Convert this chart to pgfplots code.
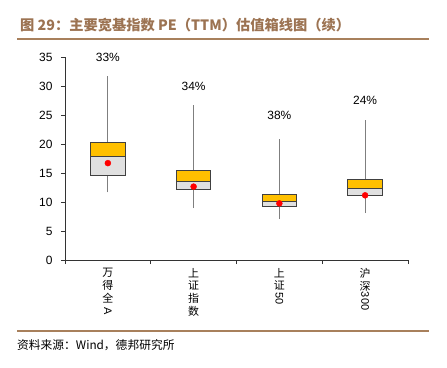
\documentclass[border=0pt]{standalone}
\usepackage{fontspec}
\setmainfont{Liberation Sans}
\newfontfamily\cjk{Noto Sans CJK SC}
\usepackage{graphicx}
\usepackage{pgfplots}
\pgfplotsset{compat=1.18}
\definecolor{brownline}{HTML}{A8805C}
\definecolor{browntext}{HTML}{9C7352}
\definecolor{boxorange}{HTML}{FFC000}
\definecolor{boxgray}{HTML}{E0E0E0}
\definecolor{whisk}{HTML}{7F7F7F}
\definecolor{boxedge}{HTML}{404040}
\newcommand{\rl}[1]{\rotatebox[origin=c]{-90}{#1}}
\begin{document}
\begin{tikzpicture}
\useasboundingbox (0bp,0bp) rectangle (447bp,368bp);
\draw[brownline, line width=1.5bp] (17bp,329bp) -- (429bp,329bp);
\draw[brownline, line width=1.5bp] (17bp,37bp) -- (429bp,37bp);
\node[anchor=west, text=browntext, font=\cjk\bfseries\fontsize{14.3}{15.5}\selectfont, inner sep=0pt] at (20bp,343bp) {图 29：主要宽基指数 PE（TTM）估值箱线图（续）};
\node[anchor=west, font=\cjk\fontsize{11.8}{13}\selectfont, inner sep=0pt] at (17bp,23bp) {资料来源：Wind，德邦研究所};
\begin{axis}[
  at={(65bp,108bp)}, anchor=south west, scale only axis,
  width=343bp, height=203bp,
  xmin=0, xmax=4, ymin=0, ymax=35,
  axis x line=bottom, axis y line=left,
  axis line style={-, black!80, line width=0.8bp},
  xtick={0,1,2,3,4}, xticklabels={},
  ytick={0,5,...,35},
  tick align=outside, major tick length=4bp,
  tick style={black!80, line width=0.8bp},
  yticklabel style={xshift=-5bp},
  clip=false,
  font=\fontsize{12}{14}\selectfont,
  /pgf/number format/assume math mode=true,
]
% whiskers (lower whisker to upper whisker)
\addplot[whisk, line width=1bp] coordinates {(0.5,11.66) (0.5,31.8)};
\addplot[whisk, line width=1bp] coordinates {(1.5,8.96) (1.5,26.7)};
\addplot[whisk, line width=1bp] coordinates {(2.5,7.05) (2.5,20.8)};
\addplot[whisk, line width=1bp] coordinates {(3.5,8.1) (3.5,24.15)};
% lower box: Q1 to median (gray)
\addplot[draw=boxedge, fill=boxgray, line width=1bp] coordinates {(0.3,14.6) (0.7,14.6) (0.7,17.8) (0.3,17.8)} -- cycle;
\addplot[draw=boxedge, fill=boxgray, line width=1bp] coordinates {(1.3,12.1) (1.7,12.1) (1.7,13.45) (1.3,13.45)} -- cycle;
\addplot[draw=boxedge, fill=boxgray, line width=1bp] coordinates {(2.3,9.3) (2.7,9.3) (2.7,10.05) (2.3,10.05)} -- cycle;
\addplot[draw=boxedge, fill=boxgray, line width=1bp] coordinates {(3.3,11.15) (3.7,11.15) (3.7,12.3) (3.3,12.3)} -- cycle;
% upper box: median to Q3 (orange)
\addplot[draw=boxedge, fill=boxorange, line width=1bp] coordinates {(0.3,17.8) (0.7,17.8) (0.7,20.2) (0.3,20.2)} -- cycle;
\addplot[draw=boxedge, fill=boxorange, line width=1bp] coordinates {(1.3,13.45) (1.7,13.45) (1.7,15.5) (1.3,15.5)} -- cycle;
\addplot[draw=boxedge, fill=boxorange, line width=1bp] coordinates {(2.3,10.05) (2.7,10.05) (2.7,11.3) (2.3,11.3)} -- cycle;
\addplot[draw=boxedge, fill=boxorange, line width=1bp] coordinates {(3.3,12.3) (3.7,12.3) (3.7,13.9) (3.3,13.9)} -- cycle;
% means
\addplot[only marks, mark=*, mark size=3bp, color=red] coordinates {(0.5,16.7) (1.5,12.65) (2.5,9.76) (3.5,11.15)};
% percentage labels
\node at (axis cs:0.5,35) {33\%};
\node at (axis cs:1.5,30) {34\%};
\node at (axis cs:2.5,25) {38\%};
\node at (axis cs:3.5,27.5) {24\%};
% category labels
\begin{scope}[every node/.style={anchor=north, align=center, inner sep=0pt, font=\fontsize{11}{12.8}\selectfont}]
\node at ([yshift=-8bp]axis cs:0.5,0) {{\cjk 万}\\{\cjk 得}\\{\cjk 全}\\\rl{A}};
\node at ([yshift=-8bp]axis cs:1.5,0) {{\cjk 上}\\{\cjk 证}\\{\cjk 指}\\{\cjk 数}};
\node at ([yshift=-8bp]axis cs:2.5,0) {{\cjk 上}\\{\cjk 证}\\\rl{50}};
\node at ([yshift=-8bp]axis cs:3.5,0) {{\cjk 沪}\\{\cjk 深}\\\rl{300}};
\end{scope}
\end{axis}
\end{tikzpicture}
\end{document}
